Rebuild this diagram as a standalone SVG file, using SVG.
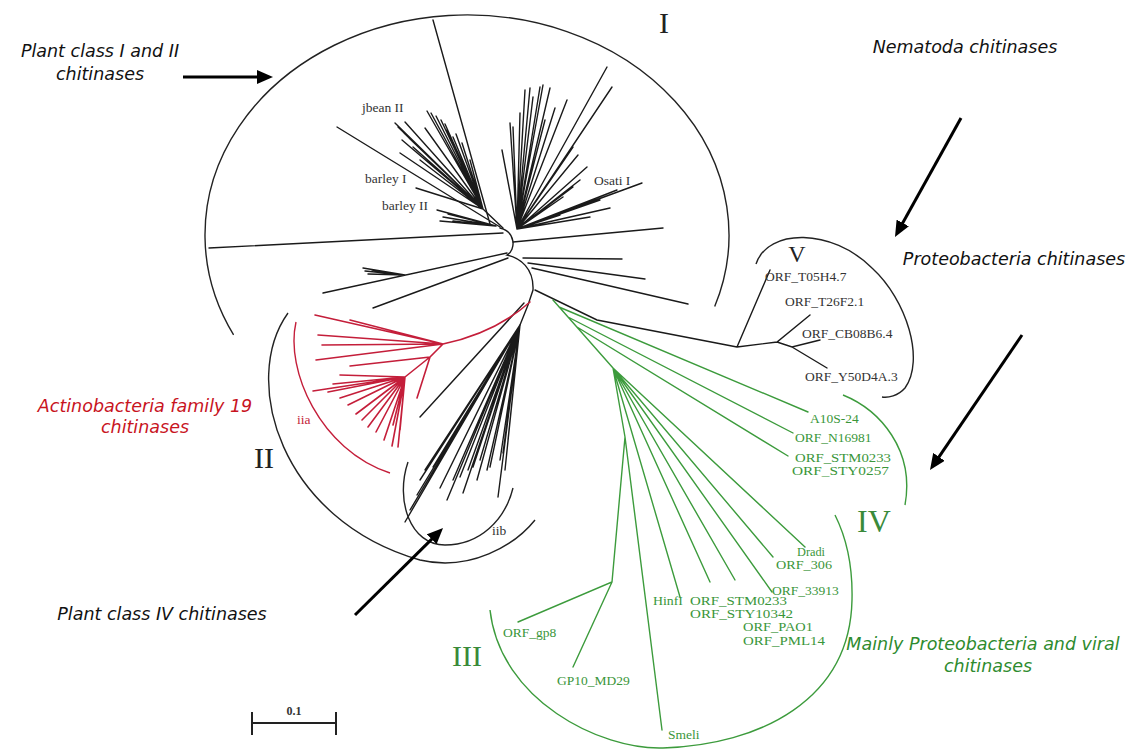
<svg xmlns="http://www.w3.org/2000/svg" width="1140" height="751" viewBox="0 0 1140 751">
<defs>
<style>
.k{stroke:#1a1a1a;stroke-width:1.4;fill:none;stroke-linecap:round}
.r{stroke:#c41e3a;stroke-width:1.6;fill:none;stroke-linecap:round}
.g{stroke:#3c9b3c;stroke-width:1.4;fill:none;stroke-linecap:round}
.arc{stroke:#222;stroke-width:1.4;fill:none}
.ga{stroke:#3c9b3c;stroke-width:1.4;fill:none}
.ra{stroke:#c41e3a;stroke-width:1.4;fill:none}
.ar{stroke:#000;stroke-width:3;fill:none;marker-end:url(#ah)}
.t{font-family:"Liberation Serif","Times New Roman",serif;font-size:13.5px;fill:#333}
.s{font-size:11.5px}
.tg{fill:#3a963a}
.tr{fill:#c41e3a}
.rom{font-family:"Liberation Serif","Times New Roman",serif;font-size:30px;fill:#222;text-anchor:middle}
.ann{font-family:"DejaVu Sans",sans-serif;font-style:italic;font-size:17.5px;text-anchor:middle;fill:#111}
</style>
<marker id="ah" markerUnits="userSpaceOnUse" markerWidth="16" markerHeight="14" viewBox="0 0 16 14" refX="3" refY="7" orient="auto"><path d="M0,0 L16,7 L0,14 z" fill="#000"/></marker>
</defs>
<rect width="1140" height="751" fill="#fff"/>

<g id="connectors">
<path class="k" d="M500 228 C516 232 516 250 507 255 C520 258 534 268 533 290 L528 305 L520 325"/>
<path class="k" d="M209 248 L503 233 M433 20 L490 224 M337 127 L500 227 M513 242 L663 228 M523 258 L622 259 M528 263 L645 279 M532 268 L688 304 M507 253 L323 293 M508 258 L373 308 M405 275 L363 268 M405 275 L365 271 M405 275 L368 274 M405 275 L372 270"/>
<path class="k" d="M483 209 L503 228 M483 209 L395 123 M483 209 L398 127 M483 209 L405 122 M483 209 L402 140 M483 209 L404 133 M483 209 L409 138 M483 209 L427 111 M483 209 L431 113 M483 209 L436 116 M483 209 L441 120 M483 209 L447 130 M483 209 L453 137 M483 209 L400 153 M483 209 L413 147 M483 209 L462 143 M483 209 L470 160 M483 209 L456 134 M483 209 L416 188 M483 209 L420 160 M483 209 L425 128 M483 209 L445 124"/>
<path class="k" d="M496 226 L437 210 M496 226 L443 217 M496 226 L440 221 M496 226 L453 221 M496 226 L448 214 M496 226 L462 223"/>
<path class="k" d="M517 229 L502 150 M517 229 L510 123 M517 229 L513 127 M517 229 L520 113 M517 229 L525 90 M517 229 L530 88 M517 229 L533 97 M517 229 L540 87 M517 229 L543 85 M517 229 L550 88 M517 229 L555 108 M517 229 L567 100 M517 229 L573 147 M517 229 L587 167 M517 229 L580 180 M517 229 L563 197 M517 229 L573 187 M517 229 L590 217 M517 229 L607 67 M517 229 L612 87 M517 229 L642 183 M517 229 L617 190 M517 229 L600 200 M517 229 L610 208 M517 229 L560 215 M517 229 L578 155 M517 229 L545 120"/>
<path class="k" d="M535 290 L597 320 L737 347 M737 347 L770 270 M737 347 L777 342 L810 315 M777 342 L792 347 L820 340 M792 347 L827 368"/>
<path class="k" d="M524 303 L420 417 M520 325 L405 522 M520 325 L410 510 M520 325 L417 495 M520 325 L420 480 M520 325 L425 470 M520 325 L433 467 M520 325 L440 488 M520 325 L447 500 M520 325 L453 480 M520 325 L460 477 M520 325 L463 493 M520 325 L468 470 M520 325 L473 467 M520 325 L477 480 M520 325 L480 460 M520 325 L487 470 M520 325 L490 467 M520 325 L498 497 M520 325 L500 460 M520 325 L503 453 M520 325 L505 470 M520 325 L508 440"/>
<path class="r" d="M530 302 Q495 333 443 344 M443 344 L315 315 M443 344 L350 320 M443 344 L318 335 M443 344 L322 345 M443 344 L316 360 M443 344 L430 357 L350 366 M430 357 L417 398 M430 357 L405 377 M405 377 L313 391 M405 377 L340 375 M405 377 L333 384 M405 377 L328 392 M405 377 L340 398 M405 377 L348 405 M405 377 L356 414 M405 377 L362 420 M405 377 L368 427 M405 377 L376 432 M405 377 L384 440 M405 377 L392 446 M405 377 L398 447 M405 377 L400 430 M405 377 L393 425"/>
<path class="g" d="M553 300 L613 368 M559 307 L808 412 M568 317 L793 433 M577 327 L788 456 M613 368 L805 547 M613 368 L773 557 M613 368 L772 592 M613 368 L735 580 M613 368 L710 582 M613 368 L680 597 M613 368 L625 437 L662 730 M625 437 L612 582 L518 622 M612 582 L573 667"/>
</g>

<g id="clade-arcs">
<path id="arc-I" class="arc" d="M233.6 334.9 A262 220 0 1 1 714.7 306.6"/>
<path id="arc-II" class="arc" d="M288 313 C240 380 280 520 420 560 C470 572 515 545 535 520"/>
<path id="arc-iia" class="ra" d="M296 322 C285 370 320 450 390 473"/>
<path id="arc-iib" class="arc" d="M408 462 C395 500 410 545 445 545 C480 545 505 520 513 488"/>
<path id="arc-V" class="arc" d="M756 264 C768 228 832 228 872 268 C907 300 925 360 905 388 C898 396 888 398 882 397"/>
<path id="arc-IV" class="ga" d="M843 395 C880 410 915 450 905 505"/>
<path id="arc-III" class="ga" d="M490 610 C500 700 600 750 663 748 C760 745 850 700 852 600 C853 560 845 535 835 515"/>
</g>

<g id="arrows">
<line class="ar" x1="183" y1="77" x2="260" y2="77"/>
<line class="ar" x1="961" y1="118" x2="901.3" y2="225.6"/>
<line class="ar" x1="1022" y1="335" x2="937.3" y2="459.3"/>
<line class="ar" x1="355" y1="615" x2="433.8" y2="537.1"/>
</g>

<g id="leaf-jbean"><text class="t" x="362" y="112">jbean II</text></g>
<g id="leaf-barley1"><text class="t" x="365" y="183">barley I</text></g>
<g id="leaf-barley2"><text class="t" x="382" y="210">barley II</text></g>
<g id="leaf-osati"><text class="t" x="594" y="185">Osati I</text></g>
<g id="leaf-iia"><text class="t tr" x="297" y="424">iia</text></g>
<g id="leaf-iib"><text class="t" x="492" y="535">iib</text></g>

<g id="leaf-T05H4"><text class="t" x="765" y="281">ORF_T05H4.7</text></g>
<g id="leaf-T26F2"><text class="t" x="785" y="306">ORF_T26F2.1</text></g>
<g id="leaf-CB08B6"><text class="t" x="802" y="338">ORF_CB08B6.4</text></g>
<g id="leaf-Y50D4A"><text class="t" x="805" y="381">ORF_Y50D4A.3</text></g>

<g id="leaf-A10S"><text class="t tg" x="810" y="423">A10S-24</text></g>
<g id="leaf-N16981"><text class="t tg" x="795" y="442">ORF_N16981</text></g>
<g id="leaf-STM0233a"><text class="t tg s" x="795" y="462" textLength="96" lengthAdjust="spacingAndGlyphs">ORF_STM0233</text></g>
<g id="leaf-STY0257"><text class="t tg s" x="792" y="475" textLength="97" lengthAdjust="spacingAndGlyphs">ORF_STY0257</text></g>

<g id="leaf-Dradi"><text class="t tg s" x="797" y="556" textLength="28" lengthAdjust="spacingAndGlyphs">Dradi</text></g>
<g id="leaf-ORF306"><text class="t tg s" x="776" y="569" textLength="56" lengthAdjust="spacingAndGlyphs">ORF_306</text></g>
<g id="leaf-ORF33913"><text class="t tg" x="772" y="595">ORF_33913</text></g>
<g id="leaf-HinfI"><text class="t tg s" x="653" y="605" textLength="30" lengthAdjust="spacingAndGlyphs">HinfI</text></g>
<g id="leaf-STM0233b"><text class="t tg s" x="690" y="605" textLength="97" lengthAdjust="spacingAndGlyphs">ORF_STM0233</text></g>
<g id="leaf-STY10342"><text class="t tg s" x="690" y="618" textLength="103" lengthAdjust="spacingAndGlyphs">ORF_STY10342</text></g>
<g id="leaf-PAO1"><text class="t tg s" x="743" y="631" textLength="70" lengthAdjust="spacingAndGlyphs">ORF_PAO1</text></g>
<g id="leaf-PML14"><text class="t tg s" x="743" y="645" textLength="82" lengthAdjust="spacingAndGlyphs">ORF_PML14</text></g>
<g id="leaf-gp8"><text class="t tg" x="503" y="637">ORF_gp8</text></g>
<g id="leaf-GP10"><text class="t tg" x="557" y="685">GP10_MD29</text></g>
<g id="leaf-Smeli"><text class="t tg" x="668" y="739">Smeli</text></g>

<g id="clade-labels">
<text class="rom" x="664" y="33" font-size="27">I</text>
<text class="rom" x="797" y="262" style="font-size:24px">V</text>
<text class="rom" x="264" y="468">II</text>
<text class="rom" x="874" y="532" style="fill:#3a8a3a;font-size:32px">IV</text>
<text class="rom" x="467" y="666" style="fill:#3a8a3a">III</text>
</g>

<g id="annotations">
<text class="ann" x="100" y="57">Plant class I and II</text>
<text class="ann" x="100" y="80">chitinases</text>
<text class="ann" x="965" y="53">Nematoda chitinases</text>
<text class="ann" x="1014" y="265">Proteobacteria chitinases</text>
<text class="ann" x="145" y="412" style="fill:#c8141e">Actinobacteria family 19</text>
<text class="ann" x="145" y="433" style="fill:#c8141e">chitinases</text>
<text class="ann" x="162" y="620">Plant class IV chitinases</text>
<text class="ann" x="983" y="650" style="fill:#2e8b2e">Mainly Proteobacteria and viral</text>
<text class="ann" x="988" y="672" style="fill:#2e8b2e">chitinases</text>
</g>

<g id="scale-bar">
<path d="M252 723 L336 723 M252 712 L252 735 M336 712 L336 735" stroke="#222" stroke-width="2" fill="none"/>
<text x="294" y="715" text-anchor="middle" style="font-family:'Liberation Serif',serif;font-size:12px;font-weight:bold;fill:#333">0.1</text>
</g>
</svg>
